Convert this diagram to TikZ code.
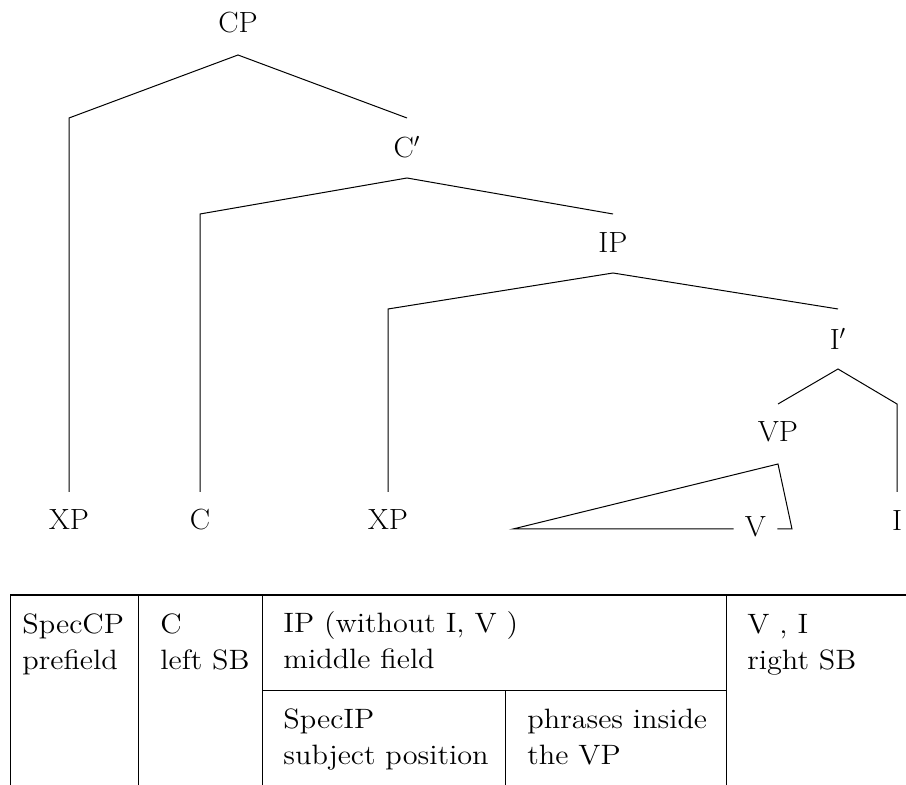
\documentclass[tikz,border=0pt]{standalone}
\usepackage{fontspec}
\setmainfont[FakeStretch=1.04]{Latin Modern Roman}
\newfontfamily\cellfont[FakeStretch=1.08]{Latin Modern Roman}
\begin{document}
\begin{tikzpicture}[x=0.5pt,y=-0.5pt,
  lbl/.style={inner sep=0pt, font=\fontsize{14.6pt}{17pt}\selectfont},
  cell/.style={anchor=base west, inner sep=0pt, align=left, font=\cellfont\fontsize{14pt}{18.3pt}\selectfont},
  br/.style={line width=0.5pt, line join=miter},
  tline/.style={line width=0.5pt},
  toprule/.style={line width=1pt}]
\useasboundingbox (0,0) rectangle (906,785);
% tree labels
\node[lbl] (cp) at (238,23) {CP};
\node[lbl] (cbar) at (407,147) {C$'$};
\node[lbl] (ip) at (613,243) {IP};
\node[lbl] (ibar) at (838,339) {I$'$};
\node[lbl] (vp) at (778,432) {VP};
\node[lbl] (xp1) at (69,520) {XP};
\node[lbl] (c) at (200,520) {C};
\node[lbl] (xp2) at (388,520) {XP};
\node[lbl] (i) at (897,521) {I};
\node[lbl, inner xsep=5.5pt] (v) at (755.5,527) {V};
% tree points
\coordinate (cpA) at (238,55);
\coordinate (cpL) at (69,118);
\coordinate (cpR) at (407,118);
\coordinate (xp1T) at (69,492);
\coordinate (cbA) at (407,178);
\coordinate (cbL) at (200,214);
\coordinate (cbR) at (613,214);
\coordinate (cT) at (200,492);
\coordinate (ipA) at (613,273);
\coordinate (ipL) at (388,309);
\coordinate (ipR) at (838,309);
\coordinate (xp2T) at (388,492);
\coordinate (ibA) at (838,369);
\coordinate (ibL) at (778,404);
\coordinate (ibR) at (897,404);
\coordinate (iT) at (897,492);
\coordinate (vpA) at (778,464);
\coordinate (vpL) at (513,529);
\coordinate (vpR) at (792,529);
% branches
\draw[br] (xp1T) -- (cpL) -- (cpA) -- (cpR);
\draw[br] (cT) -- (cbL) -- (cbA) -- (cbR);
\draw[br] (xp2T) -- (ipL) -- (ipA) -- (ipR);
\draw[br] (ibL) -- (ibA) -- (ibR) -- (iT);
\draw[br] (vpL -| v.west) -- (vpL) -- (vpA) -- (vpR) -- (vpL -| v.east);
% table
\coordinate (t0) at (10,595);
\coordinate (t1) at (906,595);
\coordinate (m0) at (262,691);
\coordinate (m1) at (726,691);
\draw[tline] (10,595) -- (10,785);
\draw[tline] (138,595) -- (138,785);
\draw[tline] (262,595) -- (262,785);
\draw[tline] (726,595) -- (726,785);
\draw[tline] (m0) -- (m1);
\draw[tline] (505,691) -- (505,785);
\draw[toprule] (t0) -- (t1);
% cell texts (anchored at the baseline of the last line)
\node[cell] (c1) at (22,670) {SpecCP\\prefield};
\node[cell] (c2) at (160,670) {C\\left SB};
\node[cell] (c3) at (283,669) {IP (without I, V )\\middle field};
\node[cell] (c4) at (283,765) {SpecIP\\subject position};
\node[cell] (c5) at (527,765) {phrases inside\\the VP};
\node[cell] (c6) at (747,670) {V , I\\right SB};
\end{tikzpicture}
\end{document}
